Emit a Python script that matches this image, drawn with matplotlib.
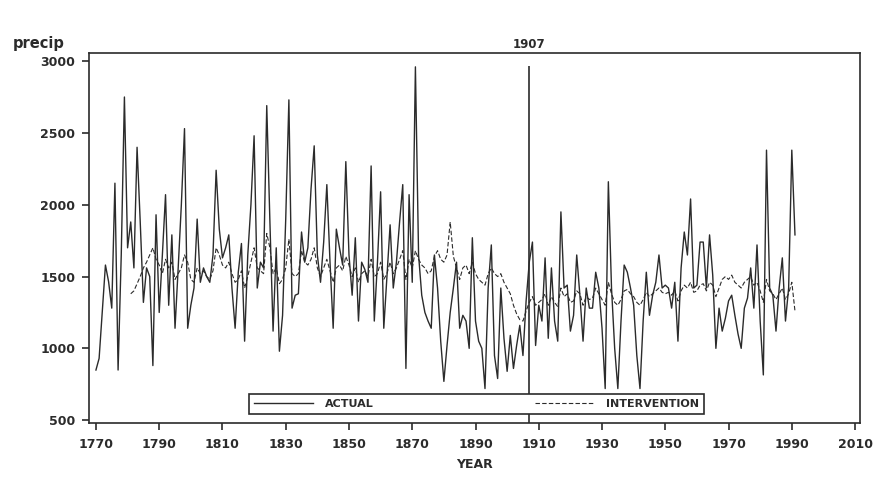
import numpy as np
import matplotlib
matplotlib.use("Agg")
import matplotlib.pyplot as plt

# annual precipitation, 1770-1991
actual_start = 1770
actual = [
    849, 930, 1250, 1580, 1464, 1280, 2150, 849, 1650, 2750,
    1700, 1880, 1560, 2400, 1880, 1320, 1560, 1500, 880, 1930,
    1250, 1650, 2070, 1300, 1790, 1140, 1560, 2000, 2530, 1140,
    1300, 1420, 1900, 1460, 1560, 1500, 1460, 1650, 2240, 1830,
    1630, 1700, 1790, 1420, 1140, 1530, 1730, 1050, 1650, 2000,
    2480, 1420, 1600, 1560, 2690, 1880, 1120, 1700, 980, 1230,
    1900, 2730, 1280, 1370, 1380, 1810, 1600, 1700, 2110, 2410,
    1650, 1460, 1740, 2140, 1600, 1140, 1830, 1700, 1580, 2300,
    1650, 1370, 1770, 1190, 1600, 1550, 1460, 2270, 1190, 1600,
    2090, 1140, 1500, 1860, 1420, 1600, 1880, 2140, 860, 2070,
    1460, 2960, 1650, 1370, 1250, 1190, 1140, 1650, 1420, 1050,
    770, 1020, 1250, 1420, 1600, 1140, 1230, 1190, 1000, 1770,
    1190, 1050, 1000, 720, 1420, 1720, 950, 790, 1420, 1070,
    840, 1090, 860, 1020, 1160, 950, 1330, 1600, 1740, 1020,
    1300, 1190, 1630, 1070, 1560, 1190, 1050, 1950, 1420, 1440,
    1120, 1230, 1650, 1370, 1050, 1420, 1280, 1280, 1530, 1420,
    1140, 720, 2160, 1420, 1000, 720, 1190, 1580, 1530, 1420,
    1300, 950, 720, 1190, 1530, 1230, 1370, 1460, 1650, 1420,
    1440, 1420, 1280, 1460, 1050, 1560, 1810, 1650, 2040, 1420,
    1440, 1740, 1740, 1420, 1790, 1510, 1000, 1280, 1120, 1210,
    1330, 1370, 1230, 1100, 1000, 1280, 1350, 1560, 1280, 1720,
    1190, 815, 2380, 1420, 1370, 1120, 1420, 1630, 1190, 1420,
    2380, 1790,
]

# intervention model fit, 1781-1991
inter_start = 1781
intervention = [
    1380, 1400, 1450, 1500, 1560, 1600, 1650, 1700, 1620,
    1580, 1520, 1620, 1560, 1600, 1480, 1520, 1560, 1650, 1600,
    1480, 1460, 1560, 1520, 1540, 1500, 1480, 1540, 1700, 1650,
    1580, 1560, 1600, 1520, 1460, 1480, 1540, 1420, 1500, 1600,
    1700, 1560, 1540, 1520, 1800, 1700, 1520, 1560, 1450, 1480,
    1560, 1760, 1520, 1500, 1520, 1680, 1600, 1580, 1620, 1700,
    1560, 1500, 1560, 1620, 1540, 1460, 1560, 1580, 1540, 1640,
    1580, 1500, 1560, 1460, 1520, 1540, 1500, 1620, 1500, 1520,
    1600, 1480, 1520, 1600, 1520, 1560, 1620, 1680, 1480, 1620,
    1560, 1680, 1620, 1580, 1560, 1520, 1540, 1640, 1680, 1620,
    1600, 1650, 1880, 1640, 1560, 1480, 1560, 1580, 1520, 1600,
    1520, 1480, 1460, 1440, 1520, 1560, 1520, 1500, 1520, 1460,
    1420, 1380, 1300, 1240, 1200, 1190, 1260, 1320, 1360, 1300,
    1320, 1340, 1380, 1300, 1360, 1320, 1290, 1420, 1360, 1380,
    1320, 1330, 1400, 1380, 1300, 1360, 1340, 1350, 1420, 1380,
    1340, 1300, 1460, 1380, 1320, 1300, 1340, 1400, 1410, 1380,
    1360, 1320, 1300, 1340, 1390, 1360, 1380, 1400, 1420, 1390,
    1380, 1390, 1370, 1400, 1330, 1400, 1440, 1420, 1460, 1390,
    1400, 1440, 1450, 1400, 1460, 1440, 1360, 1420, 1480, 1500,
    1480, 1510, 1460, 1440, 1420, 1460, 1480, 1500, 1440, 1460,
    1400, 1320, 1480, 1400, 1380, 1340, 1380, 1420, 1340, 1380,
    1460, 1260,
]

break_year = 1907
x_ticks = list(range(1770, 2011, 20))
y_ticks = [500, 1000, 1500, 2000, 2500, 3000]

actual_years = np.arange(actual_start, actual_start + len(actual))
inter_years = np.arange(inter_start, inter_start + len(intervention))

ink = "#2b2b2b"
font = {"family": "DejaVu Sans", "weight": "bold"}

fig = plt.figure(figsize=(8.75, 4.78), dpi=100)
ax = fig.add_axes([0.1017, 0.115, 0.8813, 0.774])

ax.plot(actual_years, actual, color=ink, lw=1.0, label="ACTUAL", zorder=3)
ax.plot(inter_years, intervention, color=ink, lw=0.8, ls=(0, (4, 2)),
        label="INTERVENTION", zorder=3)

# break line at 1907
ax.vlines(break_year, 480, 2965, color=ink, lw=1.2, zorder=2)
ax.text(break_year, 3070, str(break_year), ha="center", va="bottom",
        color=ink, fontsize=8.5, clip_on=False, **font)

ax.set_xlim(1767.8, 2011.6)
ax.set_ylim(480, 3056)
ax.set_xticks(x_ticks)
ax.set_yticks(y_ticks)
ax.tick_params(direction="out", length=5, width=1.2, color=ink,
               labelcolor=ink, labelsize=9, pad=5)
for lab in ax.get_xticklabels() + ax.get_yticklabels():
    lab.set_fontfamily(font["family"])
    lab.set_fontweight("bold")
ax.tick_params(axis="x", pad=6)
for sp in ax.spines.values():
    sp.set_color(ink)
    sp.set_linewidth(1.2)

ax.set_xlabel("YEAR", color=ink, fontsize=9, labelpad=5, **font)
fig.text(0.014, 0.893, "precip", color=ink, fontsize=10.5, ha="left",
         va="bottom", **font)

leg = ax.legend(loc="lower center", bbox_to_anchor=(0.5025, 0.015), ncol=2,
                frameon=True, fancybox=False, edgecolor=ink, framealpha=1,
                handlelength=5.3, columnspacing=14.5, handletextpad=1.1,
                borderpad=0.45, borderaxespad=0.3,
                prop={"family": "DejaVu Sans", "weight": "bold", "size": 8})
leg.get_frame().set_linewidth(1.2)
leg.set_zorder(5)
for t in leg.get_texts():
    t.set_color(ink)

fig.savefig("out.png", dpi=100, facecolor="white")
